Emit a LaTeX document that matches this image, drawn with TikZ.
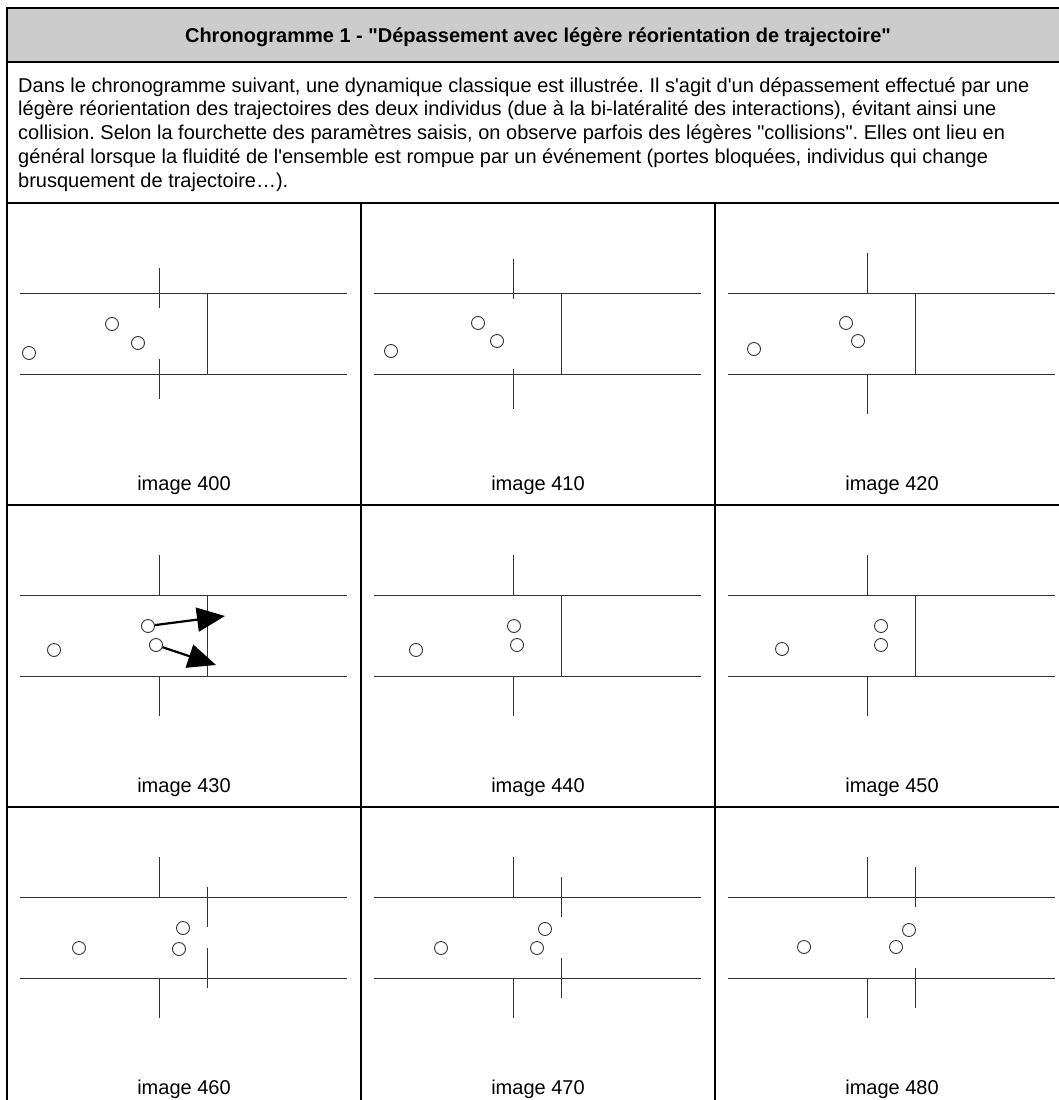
\documentclass[tikz,border=0pt]{standalone}
\usepackage{fontspec}
\newfontfamily\arial{Liberation Sans}
\usetikzlibrary{arrows.meta,positioning}
\definecolor{entete}{HTML}{CCCCCC}
\definecolor{trait}{HTML}{333333}
\frenchspacing

\begin{document}
\begin{tikzpicture}[
  x=1pt,y=-1pt,
  font=\arial\fontsize{20pt}{24pt}\selectfont,
  cadre/.style={line width=2.5pt,line cap=rect},
  mur/.style={line width=1pt,color=trait},
  indiv/.style={draw=trait,circle,line width=0.9pt,minimum size=13pt,inner sep=0pt},
  texte/.style={anchor=base west,inner sep=0pt},
  legende/.style={anchor=base,inner sep=0pt},
  pousse/.style={-{Triangle[length=28pt,width=24pt]},line width=2.2pt},
]
\useasboundingbox (0,0) rectangle (1058,1100);
% tableau
\fill[entete] (7,8) rectangle (1069,62);
\draw[cadre] (7,8) rectangle (1069,1109);
\draw[cadre] (7,62) -- (1069,62);
\draw[cadre] (7,203) -- (1069,203);
\draw[cadre] (7,505) -- (1069,505);
\draw[cadre] (7,807) -- (1069,807);
\draw[cadre] (361,203) -- (361,1109);
\draw[cadre] (715,203) -- (715,1109);
\node[legende,font=\arial\fontsize{20pt}{24pt}\selectfont\bfseries] (titre) at (538,42)
  {Chronogramme 1 - "Dépassement avec légère réorientation de trajectoire"};
\node[texte] (texte1) at (18,92) {Dans le chronogramme suivant, une dynamique classique est illustrée. Il s'agit d'un dépassement effectué par une};
\node[texte] (texte2) at (18,115.75) {légère réorientation des trajectoires des deux individus (due à la bi-latéralité des interactions), évitant ainsi une};
\node[texte] (texte3) at (18,139.5) {collision. Selon la fourchette des paramètres saisis, on observe parfois des légères "collisions". Elles ont lieu en};
\node[texte] (texte4) at (18,163.25) {général lorsque la fluidité de l'ensemble est rompue par un événement (portes bloquées, individus qui change};
\node[texte] (texte5) at (18,187) {brusquement de trajectoire…).};
% une case par image : colonne/ligne/numero/porte1/porte2/individus
\foreach \c/\r/\num/\ga/\gb/\ux/\uy/\lx/\ly/\fx/\fy in {
  0/0/400/51/0/105/121/131/140/22/150,
  1/0/410/70/0/117/120/136/138/30/148,
  2/0/420/81/0/131/120/143/138/39/146,
  0/1/430/81/0/141/121/149/140/47/145,
  1/1/440/81/0/153/121/156/140/55/145,
  2/1/450/81/0/166/121/166/140/67/144,
  0/2/460/81/21/176/121/172/142/72/141,
  1/2/470/81/41/184/122/176/141/80/141,
  2/2/480/81/61/194/123/181/140/89/140}{
  \begin{scope}[shift={(7+354*\c,203+302*\r)}]
    \draw[mur] (13,90) -- (340,90) (13,171) -- (340,171);
    \draw[mur] (152,{130.5-\ga/2-40}) -- (152,{130.5-\ga/2})
               (152,{130.5+\ga/2}) -- (152,{130.5+\ga/2+40});
    \draw[mur] (200,{130.5-\gb/2-40}) -- (200,{130.5-\gb/2})
               (200,{130.5+\gb/2}) -- (200,{130.5+\gb/2+40});
    \node[indiv] (i\num a) at (\ux,\uy) {};
    \node[indiv] (i\num b) at (\lx,\ly) {};
    \node[indiv] (i\num c) at (\fx,\fy) {};
    \node[legende] (l\num) at (177,287) {image \num};
  \end{scope}
}
% reorientation (image 430)
\coordinate (v430a) at (225,616);
\coordinate (v430b) at (216,665);
\draw[pousse] (i430a) -- (v430a);
\draw[pousse] (i430b) -- (v430b);
\end{tikzpicture}
\end{document}
